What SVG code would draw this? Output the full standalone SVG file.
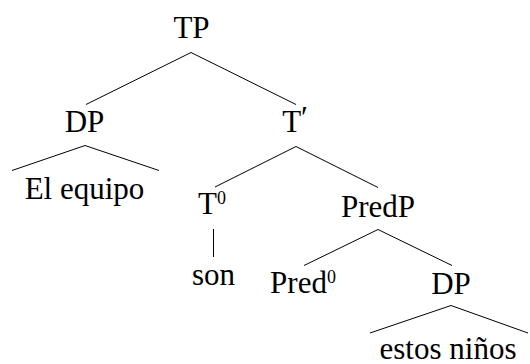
<svg xmlns="http://www.w3.org/2000/svg" width="530" height="364" viewBox="0 0 530 364">
  <style>
    text { font-family: "Liberation Serif", "Times New Roman", serif; font-size: 31px; fill: #000; text-anchor: middle; }
    .sup { font-size: 18px; }
    .prime { font-size: 31px; }
    .edges line, .edges polyline { stroke: #000; stroke-width: 1; fill: none; }
  </style>
  <rect width="530" height="364" fill="#fff"/>

  <!-- branches and roof triangles -->
  <g id="connectors" class="edges">
    <polyline points="86,104.5 191,52.5 296,104.5"/>
    <polyline points="12,170.5 85,145.5 159,170.5"/>
    <polyline points="215,187 296,146.5 378,187.5"/>
    <line x1="213.5" y1="229" x2="213.5" y2="257"/>
    <polyline points="304,265.5 378,229.5 452,265.5"/>
    <polyline points="370,333 451,305.5 528,333"/>
  </g>

  <g id="tp"><text x="191.5" y="38">TP</text></g>
  <g id="dp-subject"><text x="84.5" y="132">DP</text></g>
  <g id="dp-subject-yield"><text x="84.5" y="199">El equipo</text></g>
  <g id="t-bar"><text x="295" y="132">T<tspan class="prime" dy="-4">′</tspan></text></g>
  <g id="t-head"><text x="212" y="213.5">T<tspan class="sup" dy="-10">0</tspan></text></g>
  <g id="son"><text x="213.5" y="285">son</text></g>
  <g id="predp"><text x="378" y="216.5">PredP</text></g>
  <g id="pred-head"><text x="303" y="293">Pred<tspan class="sup" dy="-10">0</tspan></text></g>
  <g id="dp-object"><text x="451" y="293.5">DP</text></g>
  <g id="dp-object-yield"><text x="448" y="358.5">estos niños</text></g>
</svg>
